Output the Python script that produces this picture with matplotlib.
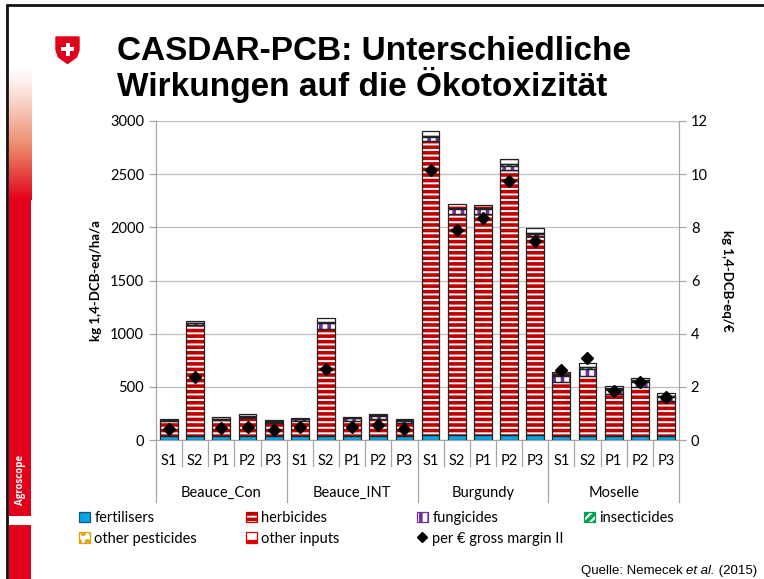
import numpy as np
import matplotlib
matplotlib.use("Agg")
import matplotlib.pyplot as plt
from matplotlib.patches import Patch, Rectangle, Polygon
from matplotlib.lines import Line2D
from matplotlib.offsetbox import TextArea, HPacker, AnchoredOffsetbox

# ---------------- data ----------------
groups = ["Beauce_Con", "Beauce_INT", "Burgundy", "Moselle"]
subs = ["S1", "S2", "P1", "P2", "P3"]

fertilisers = [38, 38, 38, 38, 38, 38, 38, 38, 38, 38,
               50, 48, 48, 45, 45, 40, 40, 38, 38, 38]
herbicides = [140, 1040, 150, 165, 125, 140, 1010, 140, 160, 125,
              2760, 2080, 2080, 2490, 1870, 510, 560, 390, 460, 330]
fungicides = [5, 20, 8, 15, 10, 15, 50, 25, 30, 18,
              40, 45, 45, 40, 20, 50, 70, 45, 45, 35]
insecticides = [3, 3, 3, 3, 3, 3, 5, 3, 3, 3,
                5, 5, 5, 20, 10, 15, 15, 10, 15, 10]
other_pesticides = [2, 2, 2, 2, 2, 2, 3, 2, 2, 2,
                    4, 8, 4, 5, 6, 3, 3, 3, 3, 3]
other_inputs = [12, 17, 12, 17, 12, 10, 38, 10, 15, 8,
                50, 30, 28, 40, 40, 25, 33, 22, 25, 29]
per_gross_margin = [0.40, 2.38, 0.44, 0.50, 0.38, 0.48, 2.66, 0.48, 0.56, 0.42,
                    10.15, 7.90, 8.34, 9.74, 7.49, 2.63, 3.07, 1.84, 2.19, 1.63]

series_names = ["fertilisers", "herbicides", "fungicides", "insecticides",
                "other pesticides", "other inputs"]

# ---------------- style ----------------
W, H = 764, 579
plt.rcParams["hatch.linewidth"] = 2.6
FONT = "Lato"
RED = "#E2001A"

fig = plt.figure(figsize=(W / 100, H / 100), dpi=100)

# background / slide decoration in pixel coordinates
bg = fig.add_axes([0, 0, 1, 1], zorder=-5)
# red strip with gradient
t = np.linspace(0, 1, 256) ** 1.15
base = np.array([0xE2, 0x00, 0x1A]) / 255.0
mid = np.array([0xEC, 0x8A, 0x6A]) / 255.0
grad = np.ones((256, 1, 3))
for i, tt in enumerate(t):
    if tt < 0.55:
        a = tt / 0.55
        grad[i, 0] = (1 - a) * np.array([1, 1, 1]) + a * mid
    else:
        a = (tt - 0.55) / 0.45
        grad[i, 0] = (1 - a) * mid + a * base
bg.imshow(grad, extent=(8.5, 31, 200, 68), aspect="auto", zorder=1,
          interpolation="bilinear")
bg.add_patch(Rectangle((8.5, 199.5), 22.5, H - 199.5, color=RED, zorder=1, lw=0))
bg.add_patch(Rectangle((8.5, 516), 22.5, 9, color="white", zorder=2, lw=0))
bg.text(20, 480, "Agroscope", rotation=90, color="white", fontsize=7,
        fontweight="bold", family="Open Sans", ha="center", va="center", zorder=3)
bg.plot([6, W], [4.5, 4.5], color="#111111", lw=2.0, solid_capstyle="butt", zorder=10)
bg.plot([6.5, 6.5], [4, H], color="#111111", lw=2.0, solid_capstyle="butt", zorder=10)
# Swiss shield
shield = Polygon([(56, 37), (79, 37), (79, 50), (76.5, 57), (67.5, 63.5),
                  (58.5, 57), (56, 50)], closed=True, color=RED, zorder=2)
bg.add_patch(shield)
bg.add_patch(Rectangle((65.5, 42.5), 4, 13, color="white", zorder=3, lw=0))
bg.add_patch(Rectangle((61, 47), 13, 4, color="white", zorder=3, lw=0))
# title
bg.text(117, 60, "CASDAR-PCB: Unterschiedliche", fontsize=24, fontweight="bold",
        family="Liberation Sans", va="baseline", ha="left")
bg.text(117, 96, "Wirkungen auf die Ökotoxizität", fontsize=24, fontweight="bold",
        family="Liberation Sans", va="baseline", ha="left")
bg.set_xlim(0, W)
bg.set_ylim(H, 0)
bg.axis("off")

# ---------------- main axes ----------------
ax_l, ax_r = 156 / W, 679 / W
ax_b, ax_t = 1 - 440 / H, 1 - 121 / H
ax = fig.add_axes([ax_l, ax_b, ax_r - ax_l, ax_t - ax_b])
ax2 = ax.twinx()

n = len(fertilisers)
x = np.arange(n)
width = 0.68

styles = [
    dict(face="#00A8E8", hatch=None, hc="#1F4E79"),
    dict(face="white", hatch="---", hc="#C00000"),
    dict(face="white", hatch="||", hc="#7030A0"),
    dict(face="white", hatch="////", hc="#00A050"),
    dict(face="white", hatch="..", hc="#E0A000"),
    dict(face="white", hatch="-", hc="#E00000"),
]
data = [fertilisers, herbicides, fungicides, insecticides, other_pesticides, other_inputs]

bottom = np.zeros(n)
handles = []
for vals, st, name in zip(data, styles, series_names):
    vals = np.array(vals, dtype=float)
    if st["hatch"]:
        ax.bar(x, vals, width, bottom=bottom, color=st["face"], hatch=st["hatch"],
               edgecolor=st["hc"], linewidth=0, zorder=2)
    else:
        ax.bar(x, vals, width, bottom=bottom, color=st["face"], linewidth=0, zorder=2)
    ax.bar(x, vals, width, bottom=bottom, fill=False, edgecolor="#222222",
           linewidth=0.9, zorder=3)
    handles.append(Patch(facecolor=st["face"], hatch=st["hatch"],
                         edgecolor=st["hc"] if st["hatch"] else "#1F4E79",
                         linewidth=0.9, label=name))
    bottom += vals

ax.set_xlim(-0.5, n - 0.5)
ax.set_ylim(0, 3000)
ax.set_yticks(np.arange(0, 3001, 500))
ax.yaxis.grid(True, color="#BFBFBF", lw=0.9, zorder=0)
ax.set_axisbelow(True)
ax.set_xticks([])
for s in ["top"]:
    ax.spines[s].set_visible(False)
    ax2.spines[s].set_visible(False)
for s in ["left", "right", "bottom"]:
    ax.spines[s].set_color("#A6A6A6")
    ax2.spines[s].set_color("#A6A6A6")
ax.tick_params(axis="y", colors="#A6A6A6", labelcolor="black", length=5,
               labelsize=10.5, width=0.9)
for lab in ax.get_yticklabels():
    lab.set_family(FONT)

ax2.plot(x, per_gross_margin, linestyle="none", marker="D", markersize=6.5,
         color="black", zorder=5)
ax2.set_ylim(0, 12)
ax2.set_yticks(np.arange(0, 13, 2))
ax2.tick_params(axis="y", colors="#A6A6A6", labelcolor="black", length=5,
                labelsize=10.5, width=0.9)
for lab in ax2.get_yticklabels():
    lab.set_family(FONT)

ax.set_ylabel("kg 1,4-DCB-eq/ha/a", fontsize=9.5, fontweight="bold",
              family=FONT, labelpad=6)
ax2.set_ylabel("kg 1,4-DCB-eq/€", fontsize=9.5, fontweight="bold",
               family=FONT, rotation=-90, labelpad=18)

# multi-level category axis
trans = ax.get_xaxis_transform()
ah = 440 - 121
for i in range(n + 1):
    xb = i - 0.5
    depth = 62 if i % 5 == 0 else 26
    ax.plot([xb, xb], [0, -depth / ah], transform=trans, color="#A6A6A6",
            lw=0.9, clip_on=False)
for i in range(n):
    ax.text(i, -21 / ah, subs[i % 5], transform=trans, ha="center", va="center",
            fontsize=10.5, family=FONT)
for g, name in enumerate(groups):
    ax.text(g * 5 + 2, -53 / ah, name, transform=trans, ha="center", va="center",
            fontsize=10.5, family=FONT)

# legend (4 columns, 2 rows)
diamond = Line2D([], [], linestyle="none", marker="D", markersize=5,
                 color="black", label="per € gross margin II")
cols = [[handles[0], handles[4]], [handles[1], handles[5]],
        [handles[2], diamond], [handles[3]]]
col_x = [79, 246, 417, 584]
for hs, cx in zip(cols, col_x):
    fig.legend(handles=hs, loc="upper left", bbox_to_anchor=(cx / W, 1 - 511 / H),
               frameon=False, prop={"family": FONT, "size": 10.5},
               handlelength=0.75, handleheight=0.75, handletextpad=0.3,
               labelspacing=0.45, borderpad=0, borderaxespad=0)

# source line
parts = HPacker(children=[
    TextArea("Quelle: Nemecek ", textprops=dict(fontsize=9.5, family="Liberation Sans")),
    TextArea("et al.", textprops=dict(fontsize=9.5, family="Liberation Sans", style="italic")),
    TextArea(" (2015)", textprops=dict(fontsize=9.5, family="Liberation Sans")),
], pad=0, sep=0)
ab = AnchoredOffsetbox(loc="lower right", child=parts, pad=0, borderpad=0,
                       frameon=False, bbox_to_anchor=(757 / W, 1 - 577 / H),
                       bbox_transform=fig.transFigure)
fig.add_artist(ab)

fig.savefig("out.png", dpi=100)
